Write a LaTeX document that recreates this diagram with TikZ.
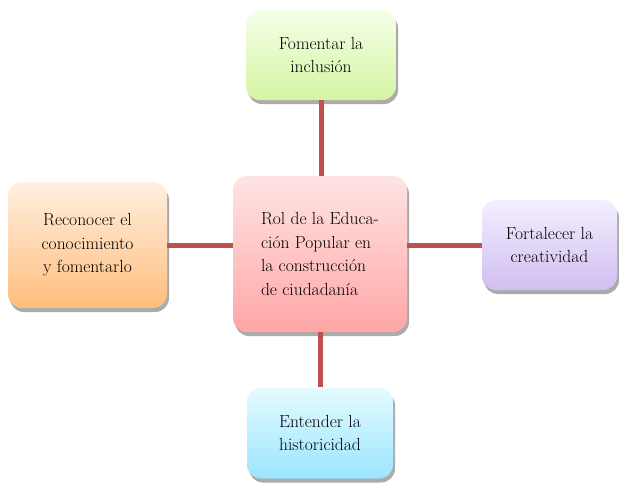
\documentclass[tikz,border=0pt]{standalone}
\usetikzlibrary{shadows}
\definecolor{linkred}{HTML}{C0504D}
\definecolor{midtop}{HTML}{FFE4E4}
\definecolor{midbot}{HTML}{FFA6A6}
\definecolor{greentop}{HTML}{F6FFEA}
\definecolor{greenbot}{HTML}{D4F4A2}
\definecolor{orangetop}{HTML}{FFF0E0}
\definecolor{orangebot}{HTML}{FFBD7E}
\definecolor{violettop}{HTML}{F3EFFF}
\definecolor{violetbot}{HTML}{D0BEF0}
\definecolor{cyantop}{HTML}{E4FBFF}
\definecolor{cyanbot}{HTML}{9CE5FF}
\tikzset{
  card/.style={rounded corners=14pt, align=center, inner sep=4pt,
    font=\fontsize{17.5}{23.5}\selectfont, text=black,
    drop shadow={shadow xshift=2pt, shadow yshift=-4pt, opacity=0.55, fill=black!60}},
  link/.style={draw=linkred, line width=5pt}
}
\begin{document}
\begin{tikzpicture}[x=1pt,y=-1pt]
  \useasboundingbox (0,0) rectangle (619,483);
  \draw
    (320,254) node[card, minimum width=174pt, minimum height=156pt,
      top color=midtop, bottom color=midbot, align=left] (mid)
      {Rol de la Educa-\\ción Popular en\\la construcción\\de ciudadanía}
    (321,55) node[card, minimum width=150pt, minimum height=90pt,
      top color=greentop, bottom color=greenbot] (top)
      {Fomentar la\\inclusión}
    (87.5,245) node[card, minimum width=159pt, minimum height=126pt,
      top color=orangetop, bottom color=orangebot] (left)
      {Reconocer el\\conocimiento\\y fomentarlo}
    (549.5,245) node[card, minimum width=135pt, minimum height=90pt,
      top color=violettop, bottom color=violetbot] (right)
      {Fortalecer la\\creatividad}
    (320,433) node[card, minimum width=146pt, minimum height=91pt,
      top color=cyantop, bottom color=cyanbot] (bottom)
      {Entender la\\historicidad};
  \begin{scope}[link]
    \draw (top.south) to (top.south |- mid.north);
    \draw (bottom.north) to (bottom.north |- mid.south);
    \draw (left.east) to (left.east -| mid.west);
    \draw (right.west) to (right.west -| mid.east);
  \end{scope}
\end{tikzpicture}
\end{document}
